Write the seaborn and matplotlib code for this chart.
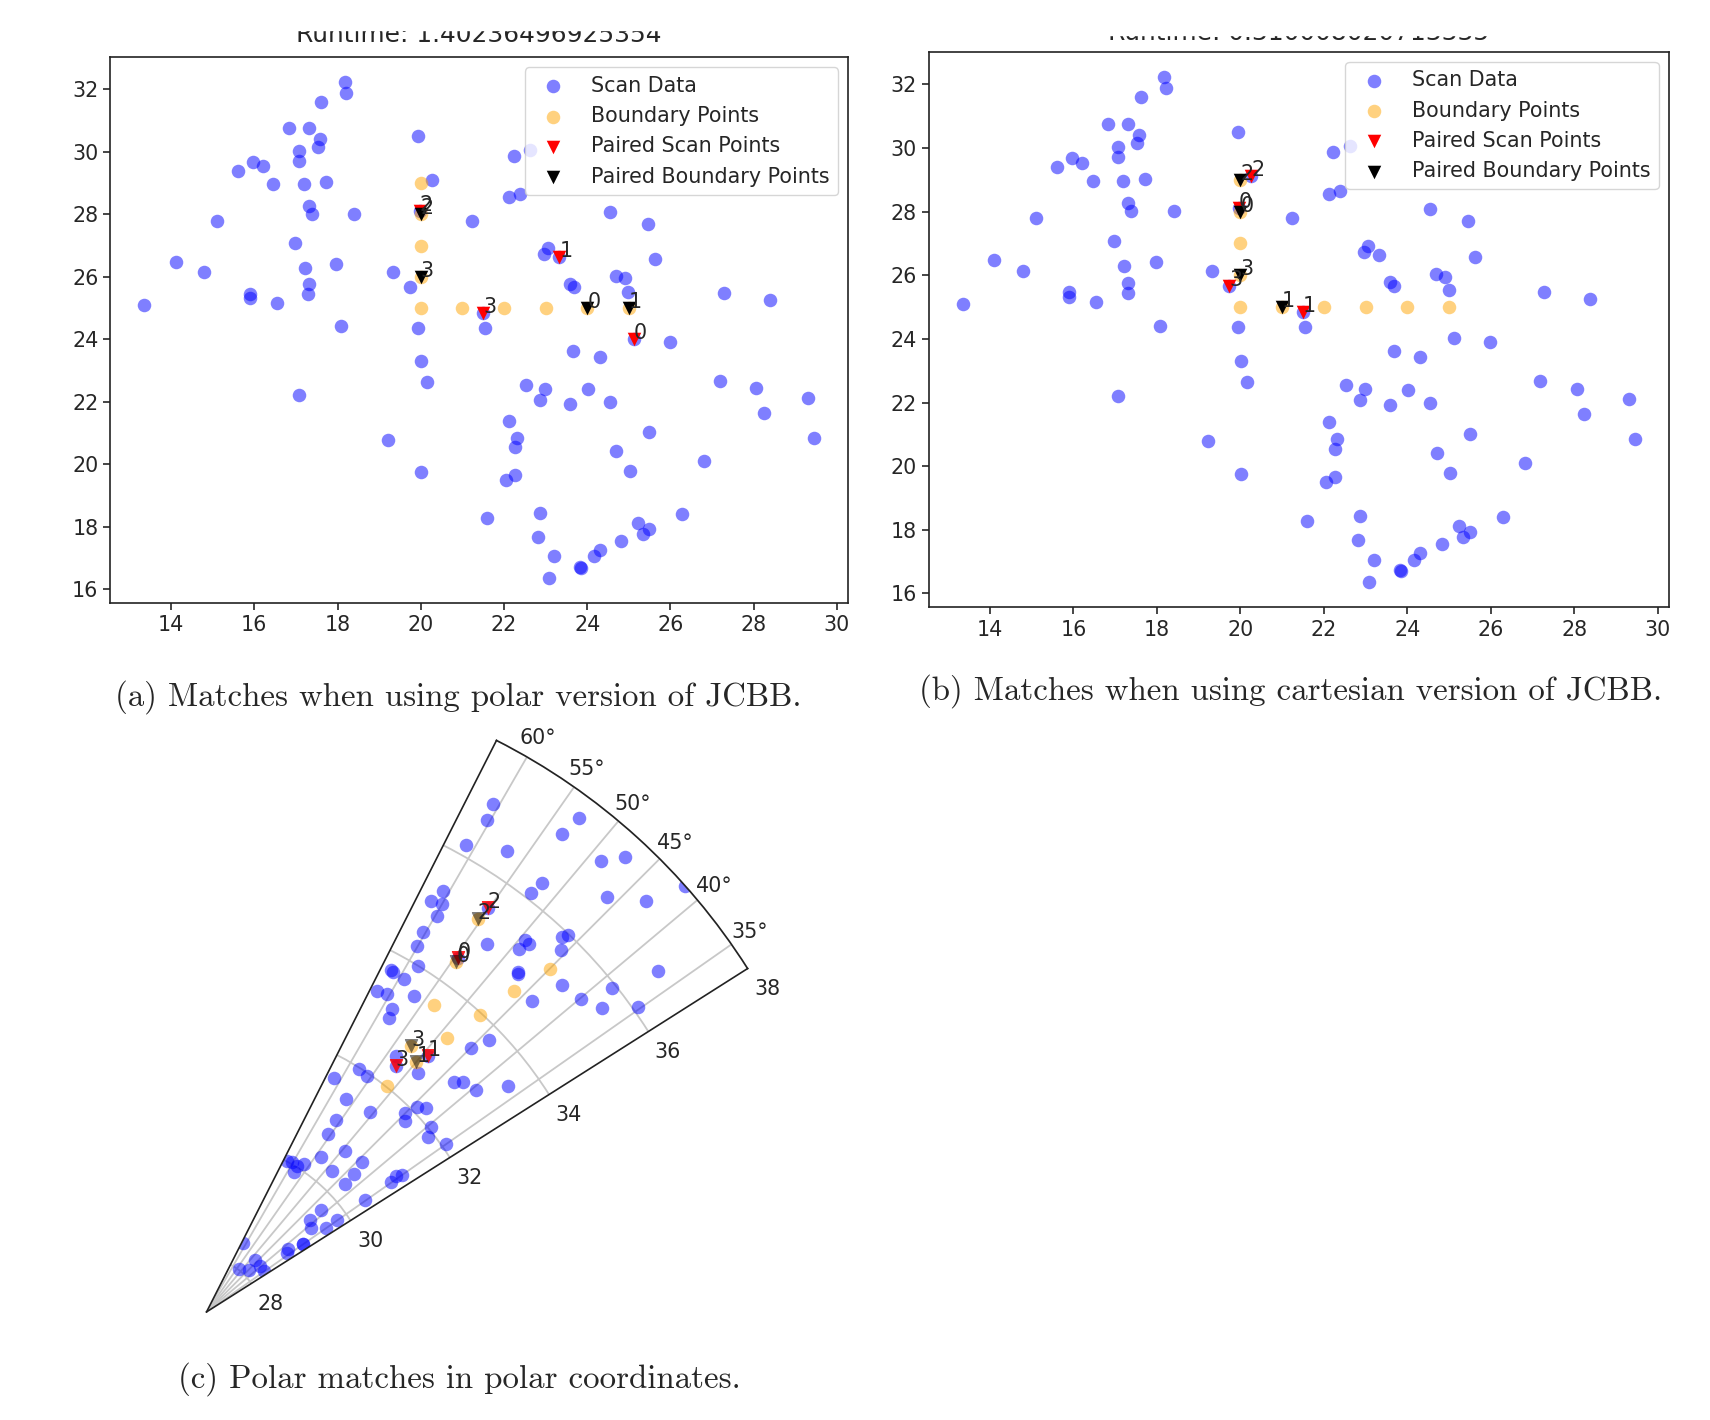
import numpy as np
import matplotlib
matplotlib.use("Agg")
import matplotlib.pyplot as plt
from matplotlib.patches import Rectangle
import seaborn as sns

# scan data (same in every panel)
scan_x = [18.18, 18.21, 17.61, 16.83, 17.32, 17.57, 17.53, 17.07, 17.07, 19.94,
          15.97, 16.21, 15.61, 16.46, 17.19, 17.72, 20.26, 17.31, 17.39, 18.40,
          15.11, 21.23, 16.98, 14.11, 14.79, 17.22, 17.97, 19.33, 19.73, 17.31,
          17.30, 15.90, 15.90, 13.35, 16.54, 18.08, 19.94, 19.97,
          22.23, 22.63, 22.12, 22.38, 24.55, 25.45, 25.63, 23.05, 22.97, 23.33,
          24.69, 24.91, 24.99, 23.58, 23.68, 27.28, 28.38, 21.50, 21.55,
          20.01, 20.16, 17.07, 19.22, 20.01,
          25.12, 25.99, 23.67, 24.31, 27.18, 28.06, 29.31, 28.24, 29.46, 22.53,
          22.99, 22.87, 23.59, 24.02, 24.55, 22.12, 22.31, 22.27, 25.49, 24.70,
          25.03, 26.81, 22.27, 22.06, 21.59, 22.87, 22.81, 23.20, 23.09, 23.83,
          23.85, 24.17, 24.31, 24.82, 25.23, 25.33, 25.49, 26.28]
scan_y = [32.24, 31.90, 31.61, 30.77, 30.77, 30.40, 30.16, 30.03, 29.72, 30.52,
          29.69, 29.54, 29.40, 28.97, 28.97, 29.02, 29.11, 28.27, 28.02, 28.02,
          27.79, 27.79, 27.09, 26.48, 26.14, 26.29, 26.42, 26.14, 25.67, 25.76,
          25.44, 25.46, 25.33, 25.09, 25.15, 24.42, 24.37, 28.12,
          29.88, 30.06, 28.55, 28.66, 28.08, 27.70, 26.57, 26.91, 26.73, 26.65,
          26.04, 25.96, 25.53, 25.78, 25.67, 25.48, 25.25, 24.85, 24.37,
          23.30, 22.63, 22.21, 20.79, 19.75,
          24.02, 23.90, 23.63, 23.44, 22.68, 22.44, 22.12, 21.65, 20.84, 22.55,
          22.41, 22.07, 21.92, 22.40, 21.98, 21.40, 20.85, 20.55, 21.02, 20.41,
          19.79, 20.09, 19.66, 19.51, 18.29, 18.44, 17.68, 17.06, 16.35, 16.72,
          16.69, 17.06, 17.26, 17.54, 18.11, 17.76, 17.92, 18.40]

boundary_x = [20, 20, 20, 20, 20, 21, 22, 23, 24, 25]
boundary_y = [29, 28, 27, 26, 25, 25, 25, 25, 25, 25]

# pairs found by the polar JCBB (panel a)
polar_scan_x = [25.12, 23.33, 19.97, 21.50]
polar_scan_y = [24.02, 26.65, 28.12, 24.85]
polar_bound_x = [24, 25, 20, 20]
polar_bound_y = [25, 25, 28, 26]

# pairs found by the cartesian JCBB (panels b and c)
cart_scan_x = [19.97, 21.50, 20.26, 19.73]
cart_scan_y = [28.12, 24.85, 29.11, 25.67]
cart_bound_x = [20, 21, 20, 20]
cart_bound_y = [28, 25, 29, 26]

titles = ["Runtime: 1.40236496925354", "Runtime: 0.310008020713335"]
captions = ["(a) Matches when using polar version of JCBB.",
            "(b) Matches when using cartesian version of JCBB.",
            "(c) Polar matches in polar coordinates."]

sns.set_style("ticks")
fs = 14.9
plt.rcParams["font.family"] = ["DejaVu Sans"]
plt.rcParams["xtick.labelsize"] = fs
plt.rcParams["ytick.labelsize"] = fs
plt.rcParams["xtick.major.size"] = 5.2
plt.rcParams["ytick.major.size"] = 5.2
plt.rcParams["xtick.major.width"] = 1.2
plt.rcParams["ytick.major.width"] = 1.2
plt.rcParams["axes.linewidth"] = 1.2
plt.rcParams["axes.edgecolor"] = "#222222"

fig = plt.figure(figsize=(17.1, 14.2), dpi=100)

S = 95


def draw_panel(ax, sx, sy, bx, by, title, pad):
    sns.scatterplot(x=scan_x, y=scan_y, ax=ax, color="blue", alpha=0.5, s=S,
                    linewidth=0, label="Scan Data")
    sns.scatterplot(x=boundary_x, y=boundary_y, ax=ax, color="orange", alpha=0.5,
                    s=S, linewidth=0, label="Boundary Points")
    sns.scatterplot(x=sx, y=sy, ax=ax, color="red", marker="v", s=S,
                    linewidth=0, label="Paired Scan Points")
    sns.scatterplot(x=bx, y=by, ax=ax, color="black", marker="v", s=S,
                    linewidth=0, label="Paired Boundary Points")
    for i in range(len(sx)):
        ax.text(sx[i], sy[i], str(i), fontsize=fs)
        ax.text(bx[i], by[i], str(i), fontsize=fs)
    ax.set_xticks([14, 16, 18, 20, 22, 24, 26, 28, 30])
    ax.set_yticks([16, 18, 20, 22, 24, 26, 28, 30, 32])
    ax.legend(loc="upper right", fontsize=fs, framealpha=0.8,
              borderpad=0.4, labelspacing=0.5, handletextpad=0.8)
    ax.set_title(title, fontsize=17.9, pad=pad)


ax1 = fig.add_axes([0.0646, 0.5753, 0.4313, 0.3845])
draw_panel(ax1, polar_scan_x, polar_scan_y, polar_bound_x, polar_bound_y,
           titles[0], 11)

ax2 = fig.add_axes([0.5433, 0.5722, 0.4327, 0.3915])
draw_panel(ax2, cart_scan_x, cart_scan_y, cart_bound_x, cart_bound_y,
           titles[1], 8)

# the source screenshot is cut just through the titles
fig.patches.append(Rectangle((0, 1 - 30 / 1420), 0.52, 1, transform=fig.transFigure,
                             color="white", zorder=20))
fig.patches.append(Rectangle((0.52, 1 - 35 / 1420), 0.48, 1, transform=fig.transFigure,
                             color="white", zorder=20))

# polar panel
ax3 = fig.add_axes([0.1119, 0.0654, 0.3342, 0.4239], projection="polar")
th = np.arctan2(scan_y, scan_x)
rr = np.hypot(scan_x, scan_y)
sns.scatterplot(x=th, y=rr, ax=ax3, color="blue", alpha=0.5, s=S, linewidth=0)
sns.scatterplot(x=np.arctan2(boundary_y, boundary_x), y=np.hypot(boundary_x, boundary_y),
                ax=ax3, color="orange", alpha=0.5, s=S, linewidth=0)
ps_t = np.arctan2(cart_scan_y, cart_scan_x)
ps_r = np.hypot(cart_scan_x, cart_scan_y)
pb_t = np.arctan2(cart_bound_y, cart_bound_x)
pb_r = np.hypot(cart_bound_x, cart_bound_y)
sns.scatterplot(x=ps_t, y=ps_r, ax=ax3, color="red", marker="v", s=S, linewidth=0,
                alpha=0.85)
sns.scatterplot(x=pb_t, y=pb_r, ax=ax3, color="black", marker="v", s=S, linewidth=0,
                alpha=0.5)
for i in range(len(ps_t)):
    ax3.text(ps_t[i], ps_r[i], str(i), fontsize=fs)
    ax3.text(pb_t[i], pb_r[i], str(i), fontsize=fs)
ax3.set_thetamin(32.4)
ax3.set_thetamax(63.1)
ax3.set_rlim(27.1, 38.0)
ax3.set_rticks([28, 30, 32, 34, 36, 38])
ax3.set_thetagrids([35, 40, 45, 50, 55, 60])
ax3.grid(True, color="#c8c8c8", linewidth=1.3)
ax3.tick_params(labelsize=fs)
ax3.set_xlabel("")
ax3.set_ylabel("")

cap_pos = [(0.268, 0.5093), (0.7547, 0.5135), (0.2685, 0.029)]
for (cx, cy), txt in zip(cap_pos, captions):
    fig.text(cx, cy, txt, ha="center", va="center", fontsize=23.7, family="cmr10")

fig.savefig("out.png", dpi=100)
